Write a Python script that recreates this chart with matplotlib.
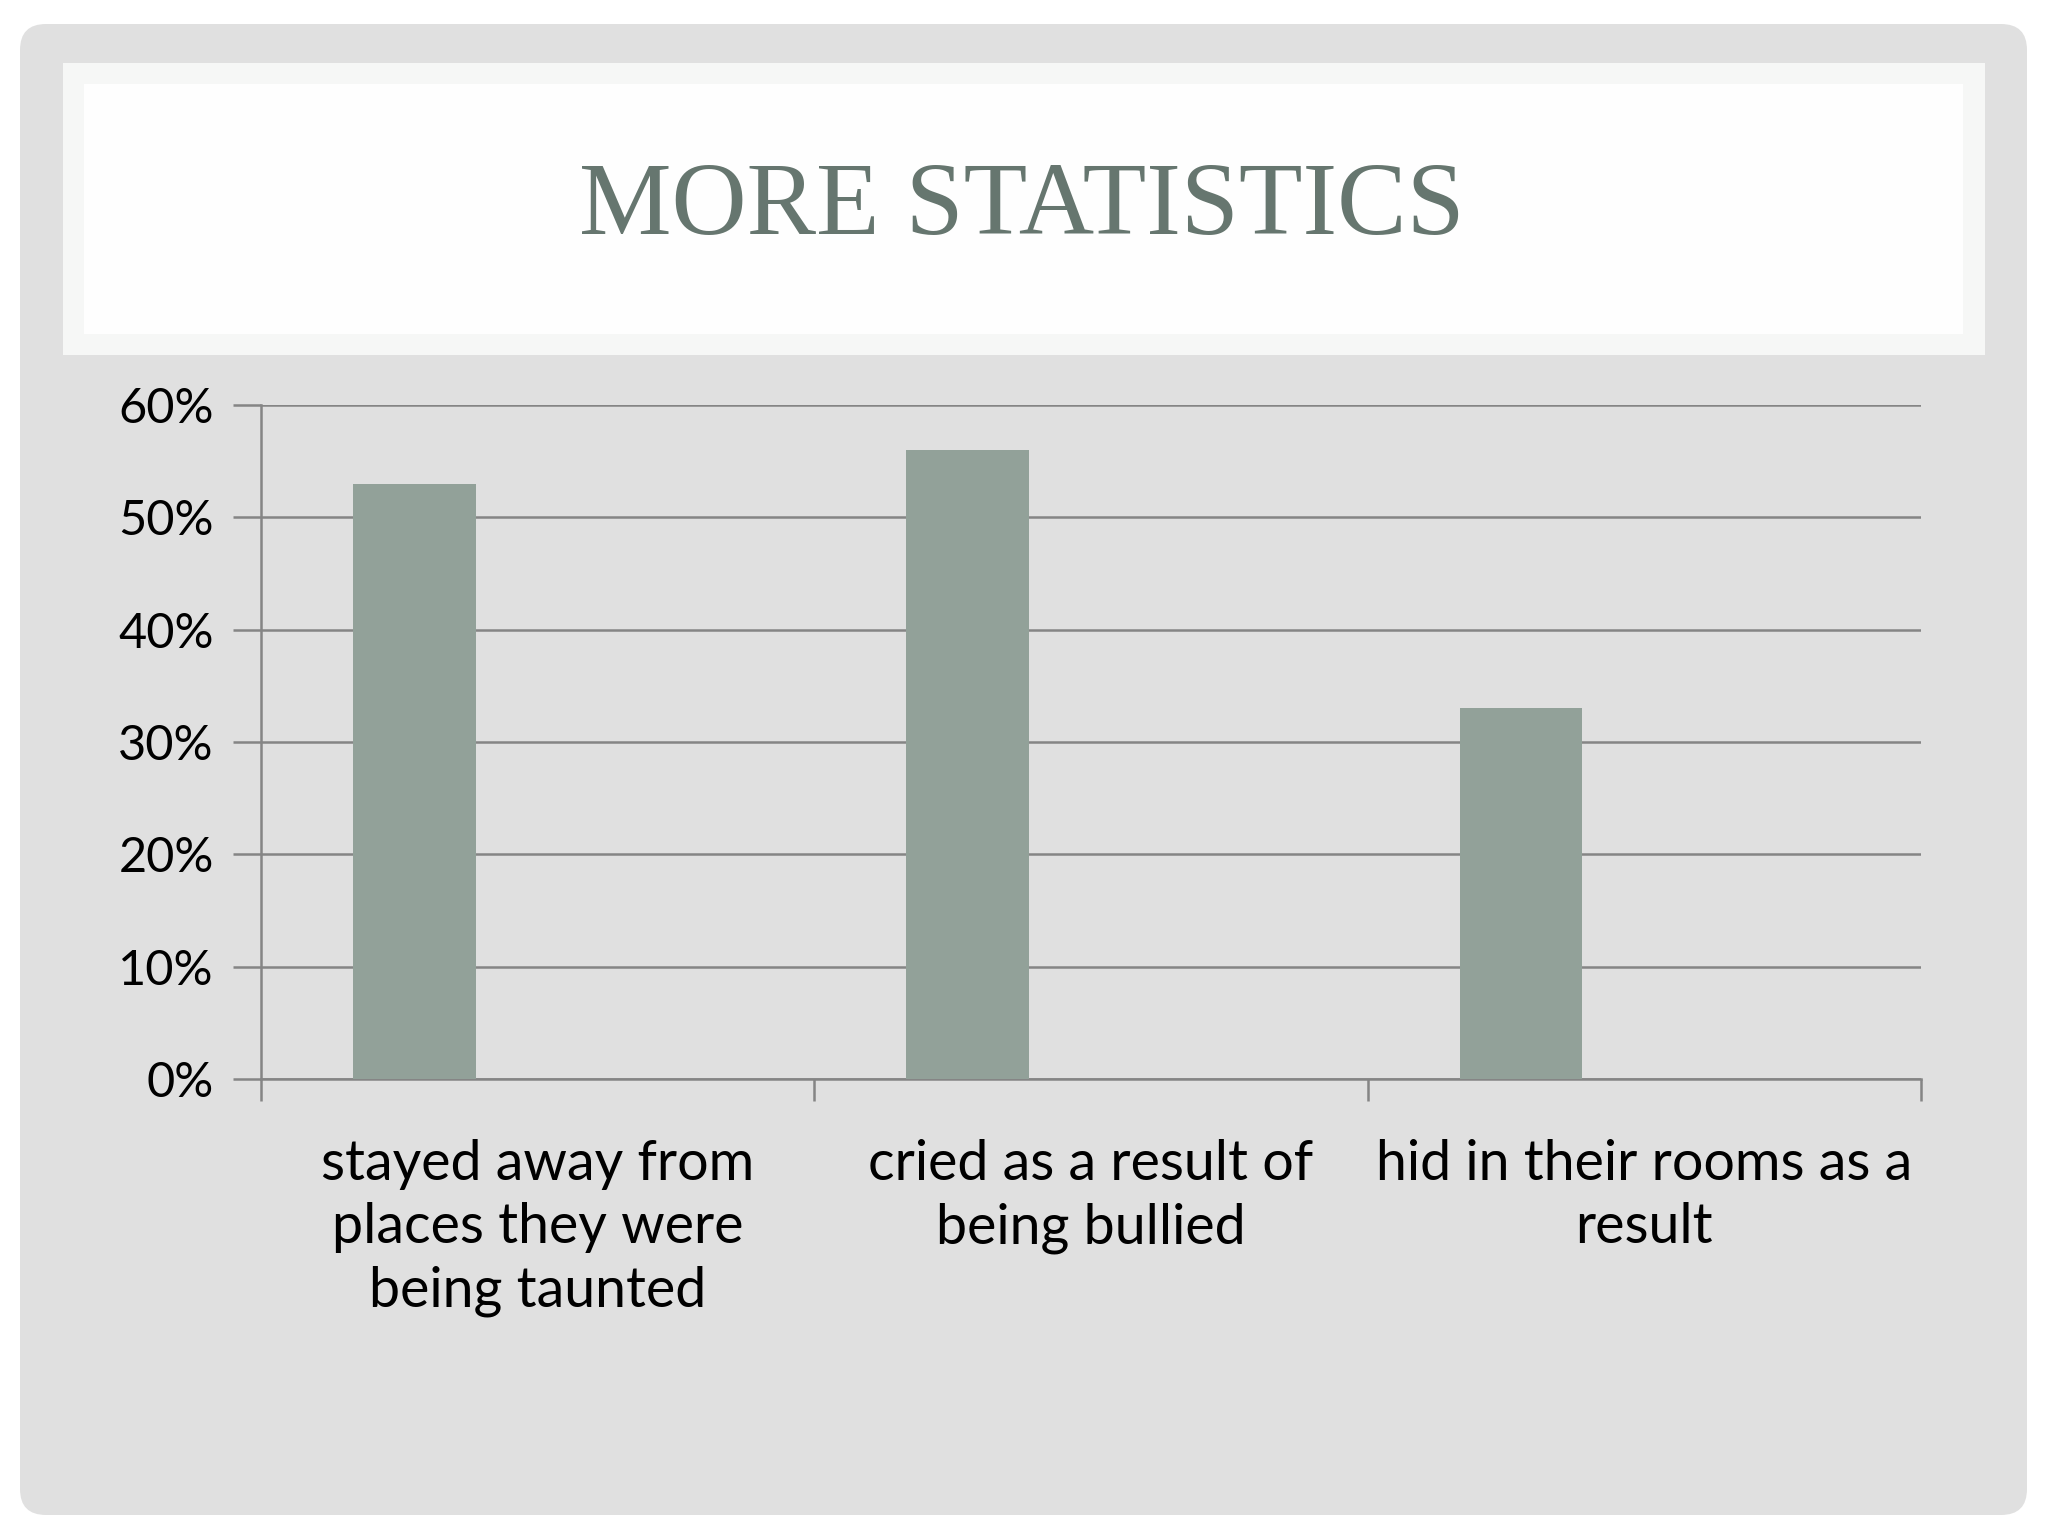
import matplotlib
matplotlib.use("Agg")
import matplotlib.pyplot as plt
from matplotlib.patches import FancyBboxPatch, Rectangle
from matplotlib.ticker import PercentFormatter, FixedLocator

# data
categories = ["stayed away from\nplaces they were\nbeing taunted",
              "cried as a result of\nbeing bullied",
              "hid in their rooms as a\nresult"]
values = [0.53, 0.56, 0.33]
y_ticks = [0.0, 0.1, 0.2, 0.3, 0.4, 0.5, 0.6]

BAR_COLOR = "#92a199"
GRID_COLOR = "#858585"
SLIDE_BG = "#e0e0e0"
TITLE_COLOR = "#66766f"
SANS = ["Lato", "DejaVu Sans"]

fig = plt.figure(figsize=(20.48, 15.36), dpi=100)
fig.patch.set_facecolor("white")

# slide background in pixel coordinates
bg = fig.add_axes([0, 0, 1, 1])
bg.set_xlim(0, 2048)
bg.set_ylim(0, 1536)
bg.axis("off")
bg.add_patch(FancyBboxPatch((20, 21), 2007, 1491,
                            boxstyle="round,pad=0,rounding_size=26",
                            facecolor=SLIDE_BG, edgecolor="none"))
bg.add_patch(Rectangle((63, 1181), 1922, 292, facecolor="#f6f7f6", edgecolor="none"))
bg.add_patch(Rectangle((84, 1202), 1879, 250, facecolor="#fefefe", edgecolor="none"))
bg.text(1022, 1327, "MORE STATISTICS", ha="center", va="center",
        fontsize=75, color=TITLE_COLOR, family=["Liberation Serif", "DejaVu Serif"])

# chart
ax = fig.add_axes([0.1274, 0.2975, 0.8106, 0.4388])
ax.set_facecolor("none")
x = list(range(len(categories)))
offset = -0.223
ax.bar([i + offset for i in x], values, width=0.222, color=BAR_COLOR, zorder=3)

ax.set_xlim(-0.5, len(categories) - 0.5)
ax.set_ylim(0, 0.6)
ax.set_yticks(y_ticks)
ax.yaxis.set_major_formatter(PercentFormatter(1.0, decimals=0))
ax.yaxis.grid(True, color=GRID_COLOR, linewidth=1.8, zorder=0)

ax.set_xticks(x)
ax.set_xticklabels(categories, fontsize=40, family=SANS, linespacing=1.3)
ax.xaxis.set_minor_locator(FixedLocator([i - 0.5 for i in range(len(categories) + 1)]))
ax.tick_params(axis="x", which="major", length=0, pad=43)
ax.tick_params(axis="x", which="minor", length=16, width=1.8, color=GRID_COLOR)
ax.tick_params(axis="y", length=20, width=1.8, color=GRID_COLOR, pad=14,
               labelsize=35)
for lbl in ax.get_yticklabels():
    lbl.set_family(SANS)

for side in ["top", "right"]:
    ax.spines[side].set_visible(False)
for side in ["left", "bottom"]:
    ax.spines[side].set_color(GRID_COLOR)
    ax.spines[side].set_linewidth(1.8)

plt.savefig("out.png", dpi=100, facecolor=fig.get_facecolor())
plt.close()
